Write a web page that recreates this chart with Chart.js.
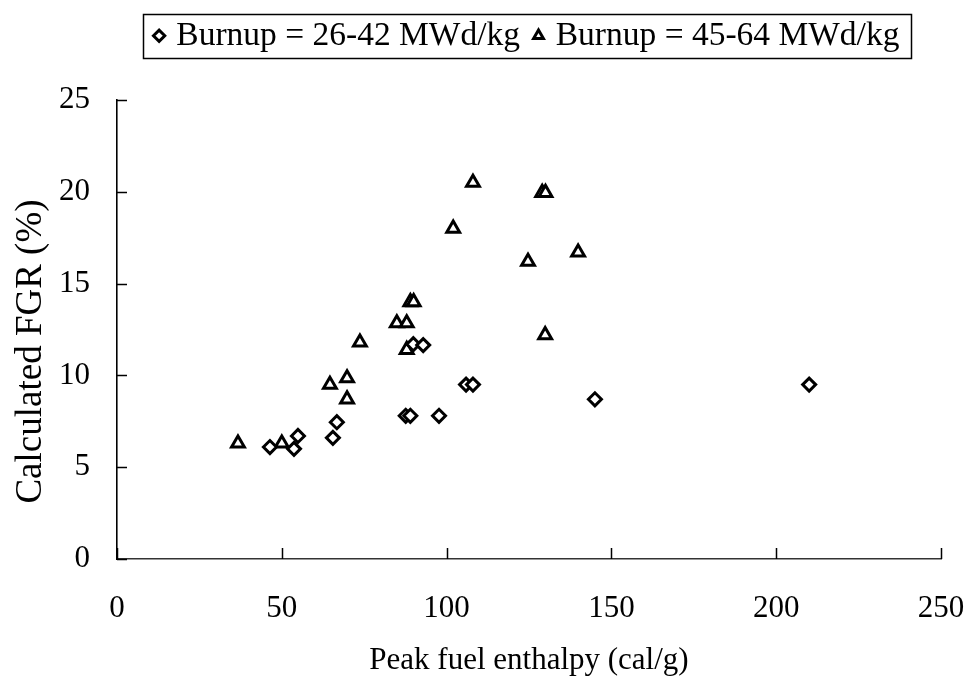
<!DOCTYPE html>
<html>
<head>
<meta charset="utf-8">
<script src="https://cdn.jsdelivr.net/npm/chart.js@4.4.1/dist/chart.umd.min.js"></script>
<style>
  html, body { margin: 0; padding: 0; background: #ffffff; }
  #wrap { width: 971px; height: 683px; }
</style>
</head>
<body>
<div id="wrap"><canvas id="chart" width="971" height="683"></canvas></div>
<script>
// ---- data ----
const seriesNames = ['Burnup = 26-42 MWd/kg', 'Burnup = 45-64 MWd/kg'];

const lowBurnupEnthalpy = [46.4, 53.7, 54.9, 65.5, 66.7, 87.6, 89.0, 97.7, 89.9, 92.9, 105.9, 108.0, 145.0, 210.0];
const lowBurnupFGR      = [6.1, 6.0, 6.7, 6.6, 7.45, 7.8, 7.8, 7.8, 11.7, 11.65, 9.5, 9.5, 8.7, 9.5];

const highBurnupEnthalpy = [36.7, 50.0, 64.6, 69.8, 69.8, 73.7, 84.9, 87.9, 87.9, 89.0, 90.0, 102.0, 108.0, 124.7, 129.0, 130.0, 139.9, 129.9];
const highBurnupFGR      = [6.3, 6.3, 9.5, 9.85, 8.7, 11.8, 12.85, 12.85, 11.4, 14.0, 14.0, 18.0, 20.5, 16.2, 19.95, 19.95, 16.7, 12.2];

const xAxisTitle = 'Peak fuel enthalpy (cal/g)';
const yAxisTitle = 'Calculated FGR (%)';
const xRange = [0, 250];
const xStep = 50;
const yRange = [0, 25];
const yStep = 5;

// ---- chart ----
const FONT = "'Liberation Serif', 'Times New Roman', Times, serif";
const toPoints = (xs, ys) => xs.map((x, i) => ({ x: x, y: ys[i] }));

const LEGEND_HEIGHT = 99;
const Y_TITLE_SHIFT = 22;

const legendFrame = {
  id: 'legendFrame',
  beforeLayout(chart) {
    const lg = chart.legend;
    if (lg && !lg._fixedFit) {
      const orig = lg.fit.bind(lg);
      lg.fit = function () { orig(); this.height = LEGEND_HEIGHT; };
      lg._fixedFit = true;
    }
  },
  afterLayout(chart) {
    const lg = chart.legend, a = chart.chartArea;
    if (lg) { lg.left = a.left; lg.right = a.right; lg.width = a.right - a.left; }
    const ys = chart.scales.y;
    if (ys && !ys._shiftedTitle) {
      const origTitle = ys.drawTitle.bind(ys);
      ys.drawTitle = function () {
        const ctx = this.ctx;
        ctx.save();
        ctx.translate(0, Y_TITLE_SHIFT);
        origTitle();
        ctx.restore();
      };
      ys._shiftedTitle = true;
    }
  },
  afterDraw(chart) {
    const boxes = chart.legend && chart.legend.legendHitBoxes;
    if (!boxes || !boxes.length) return;
    const first = boxes[0], last = boxes[boxes.length - 1];
    const cy = first.top + first.height / 2;
    const x0 = first.left - 16, x1 = last.left + last.width + 11;
    const ctx = chart.ctx;
    ctx.save();
    ctx.strokeStyle = '#000';
    ctx.lineWidth = 1.5;
    ctx.strokeRect(Math.round(x0) + 0.5, Math.round(cy - 22) + 0.5, Math.round(x1 - x0), 44);
    ctx.restore();
  }
};

const inwardTicks = {
  id: 'inwardTicks',
  afterDatasetsDraw(chart) {
    const { ctx, chartArea: a, scales } = chart;
    const xs = scales.x, ys = scales.y;
    ctx.save();
    ctx.strokeStyle = '#000';
    ctx.lineWidth = 1.5;
    ctx.beginPath();
    xs.ticks.forEach(t => {
      const px = Math.round(xs.getPixelForValue(t.value)) + 0.5;
      ctx.moveTo(px, a.bottom);
      ctx.lineTo(px, a.bottom - 11);
    });
    ys.ticks.forEach(t => {
      const py = Math.round(ys.getPixelForValue(t.value)) + 0.5;
      ctx.moveTo(a.left, py);
      ctx.lineTo(a.left + 10, py);
    });
    ctx.stroke();
    ctx.restore();
  }
};

new Chart(document.getElementById('chart'), {
  type: 'scatter',
  data: {
    datasets: [
      {
        label: seriesNames[0],
        data: toPoints(lowBurnupEnthalpy, lowBurnupFGR),
        pointStyle: 'rectRot',
        pointRadius: 6.5,
        pointHoverRadius: 6.5,
        pointBorderWidth: 3,
        pointBorderColor: '#000',
        pointBackgroundColor: '#fff',
        borderColor: '#000',
        backgroundColor: '#fff'
      },
      {
        label: seriesNames[1],
        data: toPoints(highBurnupEnthalpy, highBurnupFGR),
        pointStyle: 'triangle',
        pointRadius: 7.4,
        pointHoverRadius: 7.4,
        pointBorderWidth: 3,
        pointBorderColor: '#000',
        pointBackgroundColor: '#fff',
        borderColor: '#000',
        backgroundColor: '#fff'
      }
    ]
  },
  options: {
    responsive: false,
    animation: false,
    devicePixelRatio: 1,
    clip: false,
    layout: { padding: { left: 0, right: 30, top: 1, bottom: 0 } },
    plugins: {
      legend: {
        display: true,
        position: 'top',
        align: 'center',
        labels: {
          usePointStyle: true,
          boxWidth: 1,
          boxHeight: 8,
          padding: 18,
          color: '#000',
          font: { family: FONT, size: 33.5 }
        }
      },
      tooltip: { enabled: false },
      title: { display: false }
    },
    scales: {
      x: {
        type: 'linear',
        min: xRange[0],
        max: xRange[1],
        afterFit(scale) {
          scale.height = 124;
          scale.paddingLeft = 0;
          scale.paddingRight = 0;
        },
        ticks: {
          stepSize: xStep,
          color: '#000',
          padding: 31,
          maxRotation: 0,
          font: { family: FONT, size: 31 }
        },
        grid: { display: true, drawOnChartArea: false, drawTicks: false },
        border: { display: true, color: '#333', width: 1.6 },
        title: {
          display: true,
          text: xAxisTitle,
          color: '#000',
          padding: { top: 0, bottom: 4 },
          font: { family: FONT, size: 31 }
        }
      },
      y: {
        type: 'linear',
        min: yRange[0],
        max: yRange[1],
        afterFit(scale) { scale.width = 117; },
        ticks: {
          stepSize: yStep,
          color: '#000',
          padding: 27,
          font: { family: FONT, size: 31 }
        },
        grid: { display: true, drawOnChartArea: false, drawTicks: false },
        border: { display: true, color: '#000', width: 1.6 },
        title: {
          display: true,
          text: yAxisTitle,
          color: '#000',
          padding: { top: 9, bottom: 0 },
          font: { family: FONT, size: 37 }
        }
      }
    }
  },
  plugins: [legendFrame, inwardTicks]
});
</script>
</body>
</html>
